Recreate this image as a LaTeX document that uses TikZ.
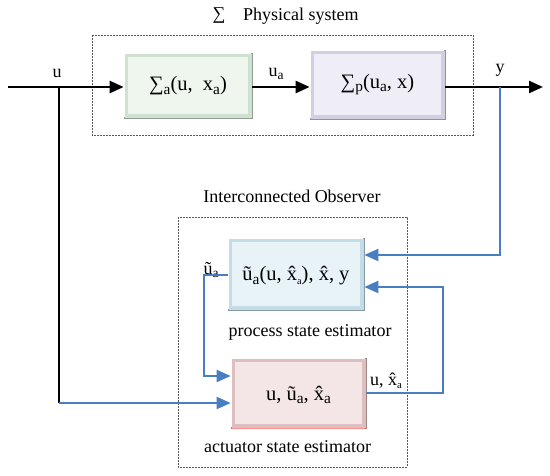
\documentclass[tikz,border=0pt]{standalone}
\usepackage{fontspec}
\usepackage{graphicx}
\setmainfont{Liberation Serif}
\usetikzlibrary{arrows.meta,calc}
\newcommand{\lowsub}[2][0.75]{\raisebox{-0.4ex}{\scalebox{#1}{#2}}}
\tikzset{
  lbl/.style={inner sep=0pt, font=\fontsize{18}{20}\selectfont},
  boxtxt/.style={font=\fontsize{20.5}{22}\selectfont},
  frame/.style={draw=black!65, line width=0.8pt, dash pattern=on 1.6pt off 1.4pt},
  blk/.style={line width=2.4pt, black},
  blu/.style={line width=2pt, color=bluel},
  tip/.style={-{Triangle[length=14pt,width=12pt]}},
  bev/.style={draw=#1!60!black!40, line width=0.8pt, fill=#1!85!gray, inner sep=0pt, minimum width=130pt},
}
\definecolor{bluel}{HTML}{4A7EC2}
\definecolor{gfill}{HTML}{EEF6EE}
\definecolor{gedge}{HTML}{CFE2CF}
\definecolor{pfill}{HTML}{EFEDF6}
\definecolor{pedge}{HTML}{D3CFE2}
\definecolor{bfill}{HTML}{E8F3F8}
\definecolor{bedge}{HTML}{C3DCE6}
\definecolor{rfill}{HTML}{F4E6E6}
\definecolor{redge}{HTML}{DDBFBF}
\newcommand{\bevelbox}[6]{%
  % #1 name, #2 center, #3 width, #4 height, #5 edge, #6 fill
  \node[draw=#5!70!black, line width=0.7pt, fill=#5, minimum width=#3pt, minimum height=#4pt, inner sep=0pt] (#1) at #2 {};
  \fill[#6] ([shift={(4.5pt,-4.5pt)}]#1.north west) rectangle ([shift={(-4.5pt,4.5pt)}]#1.south east);
  \draw[white, line width=0.8pt] ([shift={(1pt,1pt)}]#1.south west) -- ([shift={(1pt,-1pt)}]#1.north west) -- ([shift={(-1pt,-1pt)}]#1.north east);
}
\begin{document}
\begin{tikzpicture}[x=1pt,y=-1pt]
\useasboundingbox (0,0) rectangle (550,476);
% frames
\draw[frame] (92,35) rectangle (473,135);
\draw[frame] (178,217) rectangle (407,467);
% titles
\node[lbl] (sig) at (219,16) {∑};
\node[lbl, anchor=west] (phys) at (243,16) {Physical system};
\node[lbl] (obs) at (292,196) {Interconnected Observer};
% boxes
\bevelbox{ga}{(188,85.5)}{128}{65}{gedge}{gfill}
\bevelbox{pa}{(377.5,84.5)}{135}{69}{pedge}{pfill}
\bevelbox{pe}{(296,274)}{136}{72}{bedge}{bfill}
\bevelbox{ae}{(298.5,393)}{135}{70}{redge}{rfill}
\draw[color=red!45, line width=1.2pt] ([xshift=1pt]ae.south west) -- ([xshift=-1pt]ae.south east);
% box texts
\node[boxtxt] (gat) at (ga.center) {∑\lowsub{a}(u,\ \ x\lowsub{a})};
\node[boxtxt] (pat) at (pa.center) {∑\lowsub{p}(u\lowsub{a}, x)};
\node[boxtxt] (pet) at ([yshift=-2pt]pe.center) {\~{u}\lowsub{a}(u, \^{x}\lowsub[0.5]{a}), \^{x}, y};
\node[boxtxt] (aet) at ([yshift=-2pt]ae.center) {u, \~{u}\lowsub{a}, \^{x}\lowsub{a}};
\node[lbl] (pel) at (310,332) {process state estimator};
\node[lbl] (ael) at (287.5,447) {actuator state estimator};
% coordinates
\coordinate (start) at (8,87);
\coordinate (br) at (59,87);
\coordinate (ucorner) at (59,403);
\coordinate (ytap) at (500,87);
\coordinate (ycorner) at (500,255);
\coordinate (yend) at (543,87);
\coordinate (c1) at (443,393);
\coordinate (c2) at (443,287);
\coordinate (d1) at (204,275);
\coordinate (d2) at (204,376);
% labels
\node[lbl] (ul) at (57,73) {u};
\node[lbl] (ual) at (276,74) {u\lowsub{a}};
\node[lbl] (yl) at (500,70) {y};
\node[lbl] (utl) at (211,270) {\~{u}\lowsub{a}};
\node[lbl] (uxl) at (386,381) {u, \^{x}\lowsub[0.6]{a}};
% connectors
\draw[blk] (br) -- (ucorner);
\draw[blk, tip] (start) -- (start -| ga.west);
\draw[blk, tip] (ga.east |- start) -- (pa.west |- start);
\draw[blk, tip] (pa.east |- start) -- (yend);
\draw[blu, tip] (ucorner) -- (ucorner -| ae.west);
\draw[blu, tip] (ytap) -- (ycorner) -- (ycorner -| pe.east);
\draw[blu, tip] (ae.east |- c1) -- (c1) -- (c2) -- (c2 -| pe.east);
\draw[blu, tip] (pe.west |- d1) -- (d1) -- (d2) -- (d2 -| ae.west);
\end{tikzpicture}
\end{document}
